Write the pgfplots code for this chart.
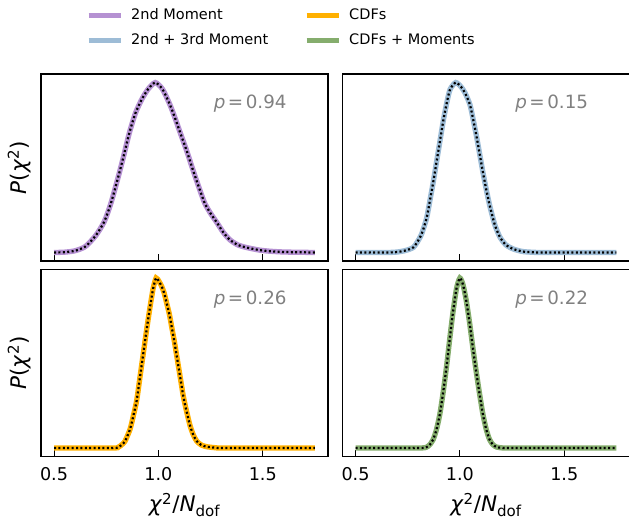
\documentclass[border=0pt]{standalone}
\usepackage{fontspec}
\setmainfont{DejaVu Sans}
\usepackage{pgfplots}
\pgfplotsset{compat=1.18}

\definecolor{cmom}{RGB}{181,145,210}
\definecolor{cmom3}{RGB}{157,188,214}
\definecolor{ccdf}{RGB}{255,176,0}
\definecolor{ccdfm}{RGB}{133,173,109}
\definecolor{ptxt}{RGB}{128,128,128}

\pgfplotsset{
  panel/.style={
    scale only axis, width=287pt, height=187pt,
    xmin=0.4375, xmax=1.8125, ymin=-0.05, ymax=1.05,
    xtick={0.5,1.0,1.5}, ytick=\empty, xtick pos=left, tick align=inside,
    major tick length=7pt, tick style={line width=1pt, black},
    axis line style={line width=1.8pt},
    /pgf/number format/assume math mode=true,
    xticklabel style={font=\fontsize{17.6}{20}\selectfont, anchor=center, yshift=-17.8pt,
      /pgf/number format/fixed, /pgf/number format/fixed zerofill, /pgf/number format/precision=1},
    every axis y label/.style={at={(axis description cs:-0.076,0.5)}, rotate=90, anchor=center,
      font=\fontsize{21.5}{26}\selectfont},
    every axis x label/.style={at={(axis description cs:0.5,-0.258)}, anchor=center,
      font=\fontsize{21.5}{26}\selectfont},
  },
  curve/.style={line width=5.3pt, smooth, tension=0.4},
  ref/.style={black, line width=2.2pt, dash pattern=on 2pt off 2.4pt, smooth, tension=0.4},
}
\newcommand{\pval}[1]{\node[anchor=west, text=ptxt, font=\fontsize{18.3}{22}\selectfont] at (rel axis cs:0.59,0.84) {\textit{p}\kern2.5pt=\kern2.5pt#1};}

\pgfplotstableread{
x y
0.50 0.000
0.55 0.002
0.60 0.010
0.65 0.035
0.70 0.100
0.74 0.180
0.77 0.280
0.80 0.410
0.83 0.550
0.86 0.700
0.89 0.820
0.92 0.900
0.95 0.960
0.985 1.000
1.02 0.960
1.055 0.870
1.08 0.790
1.10 0.720
1.135 0.600
1.167 0.480
1.195 0.380
1.222 0.290
1.25 0.230
1.278 0.180
1.31 0.120
1.342 0.075
1.38 0.045
1.42 0.030
1.48 0.015
1.53 0.008
1.60 0.003
1.70 0.001
1.75 0.000
}\momtwo

\pgfplotstableread{
x y
0.50 0.000
0.65 0.000
0.70 0.003
0.74 0.012
0.777 0.030
0.80 0.070
0.817 0.110
0.84 0.200
0.857 0.310
0.873 0.420
0.889 0.540
0.905 0.660
0.921 0.780
0.937 0.880
0.953 0.960
0.98 1.000
1.005 0.975
1.024 0.940
1.048 0.870
1.064 0.780
1.08 0.680
1.096 0.570
1.112 0.460
1.128 0.360
1.144 0.270
1.168 0.160
1.192 0.090
1.22 0.045
1.257 0.020
1.30 0.006
1.34 0.002
1.40 0.000
1.75 0.000
}\momthree

\pgfplotstableread{
x y
0.50 0.000
0.78 0.000
0.808 0.005
0.825 0.020
0.84 0.040
0.864 0.110
0.88 0.190
0.896 0.280
0.912 0.420
0.928 0.560
0.944 0.700
0.96 0.830
0.975 0.940
0.989 1.000
1.003 0.980
1.016 0.950
1.028 0.910
1.04 0.850
1.052 0.790
1.064 0.710
1.076 0.630
1.088 0.540
1.104 0.420
1.12 0.300
1.136 0.210
1.152 0.130
1.168 0.075
1.184 0.040
1.205 0.018
1.23 0.008
1.27 0.002
1.32 0.000
1.75 0.000
}\cdfs

\pgfplotstableread{
x y
0.50 0.000
0.80 0.000
0.84 0.005
0.856 0.020
0.872 0.050
0.888 0.110
0.904 0.200
0.92 0.330
0.936 0.480
0.952 0.650
0.968 0.810
0.984 0.940
1.00 1.000
1.015 0.960
1.03 0.870
1.046 0.740
1.062 0.590
1.078 0.450
1.094 0.320
1.11 0.200
1.126 0.110
1.142 0.050
1.158 0.020
1.175 0.006
1.20 0.001
1.25 0.000
1.75 0.000
}\cdfmom

\begin{document}
\begin{tikzpicture}
\useasboundingbox (0pt,0pt) rectangle (629pt,-523pt);

\begin{axis}[panel, at={(41pt,-74pt)}, anchor=north west,
  xticklabels={}, ylabel={\textit{P}(\textit{χ}\textsuperscript{2})},
  legend columns=2, legend cell align=left,
  legend image code/.code={\draw[#1, line width=5pt] (0pt,0pt) -- (32pt,0pt);},
  legend style={draw=none, fill=none, at={(axis description cs:0.1568,1.353)}, anchor=north west,
    font=\fontsize{14.5}{17}\selectfont, inner sep=0pt, column sep=8pt, row sep=11pt,
    nodes={inner sep=0pt, text height=11pt, text depth=3pt},
    /tikz/every even column/.append style={column sep=36pt}},
  legend entries={2nd Moment, CDFs, 2nd + 3rd Moment, CDFs + Moments}]
\addlegendimage{cmom}
\addlegendimage{ccdf}
\addlegendimage{cmom3}
\addlegendimage{ccdfm}
\addplot[curve, cmom, forget plot] table {\momtwo};
\addplot[ref, forget plot] table {\momtwo};
\pval{0.94}
\end{axis}

\begin{axis}[panel, at={(342.5pt,-74pt)}, anchor=north west, xticklabels={}]
\addplot[curve, cmom3] table {\momthree};
\addplot[ref] table {\momthree};
\pval{0.15}
\end{axis}

\begin{axis}[panel, at={(41pt,-269.5pt)}, anchor=north west,
  ylabel={\textit{P}(\textit{χ}\textsuperscript{2})},
  xlabel={\textit{χ}\textsuperscript{2}/\textit{N}\textsubscript{dof}}]
\addplot[curve, ccdf] table {\cdfs};
\addplot[ref] table {\cdfs};
\pval{0.26}
\end{axis}

\begin{axis}[panel, at={(342.5pt,-269.5pt)}, anchor=north west,
  xlabel={\textit{χ}\textsuperscript{2}/\textit{N}\textsubscript{dof}}]
\addplot[curve, ccdfm] table {\cdfmom};
\addplot[ref] table {\cdfmom};
\pval{0.22}
\end{axis}
\end{tikzpicture}
\end{document}
